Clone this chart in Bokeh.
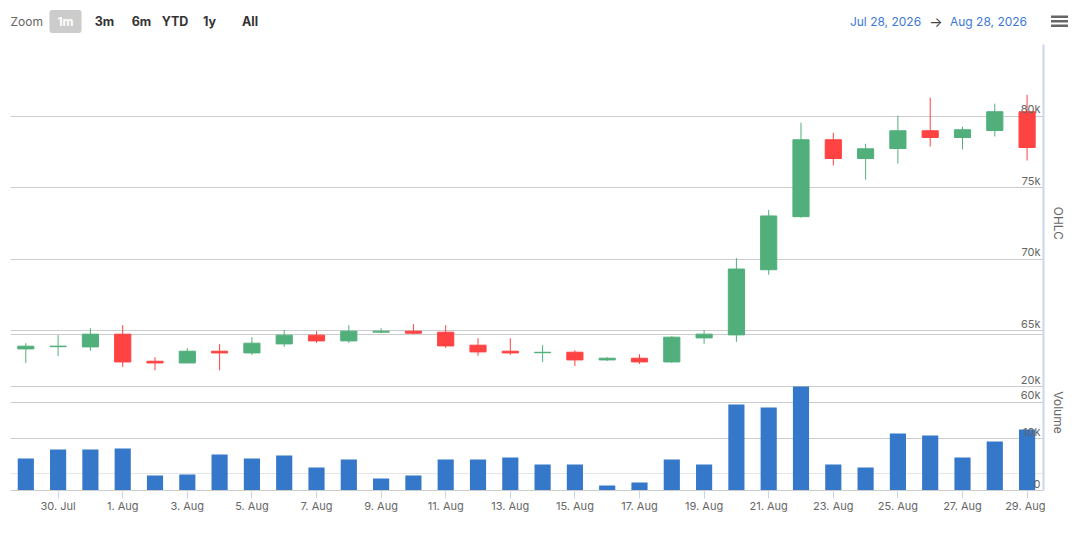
import math
import pandas as pd
from bokeh.plotting import figure
from bokeh.layouts import column, row
from bokeh.models import (Range1d, LinearAxis, FixedTicker, Grid, Label, LabelSet,
                          ColumnDataSource)
from bokeh.core.properties import value
from bokeh.embed import file_html
from bokeh.resources import INLINE

# ---------------- data ----------------
dates = pd.date_range("2026-07-29", "2026-08-29", freq="D")
opens = [63726, 63880, 63866, 64755, 62864, 62745, 63564, 63445, 64076, 64685, 64286,
         64895, 64965, 64895, 63985, 63565, 63460, 63495, 62956, 63075, 62816, 64496,
         64706, 69258, 72969, 78341, 77031, 77731, 78971, 78502, 78992, 80301]
highs = [64125, 64685, 65175, 65385, 63145, 63775, 64055, 64545, 65035, 64965, 65385,
         65175, 65455, 65385, 64475, 64475, 63985, 63635, 63145, 63355, 64615, 65035,
         70077, 73438, 79532, 78831, 78061, 80021, 81283, 79251, 80862, 81493]
lows = [62745, 63235, 63585, 62465, 62234, 62740, 62234, 63306, 63866, 64146, 64146,
        64825, 64755, 63796, 63236, 63306, 62816, 62536, 62885, 62675, 62745, 64076,
        64216, 68908, 72900, 76541, 75560, 76681, 77871, 77661, 78572, 76891]
closes = [63915, 63920, 64755, 62815, 62745, 63564, 63445, 64125, 64685, 64286, 64965,
          64965, 64825, 63936, 63516, 63445, 63490, 62956, 63075, 62816, 64545, 64755,
          69307, 73018, 78341, 77031, 77710, 78971, 78502, 79041, 80301, 77801]
volumes = [6154, 7885, 7885, 8077, 2885, 3077, 6923, 6154, 6731, 4423, 5962,
           2308, 2885, 5962, 5962, 6346, 5000, 5000, 962, 1538, 5962, 5000,
           16538, 15962, 20000, 5000, 4423, 10962, 10577, 6346, 9423, 11731]

ohlc_grid_ticks = [60000, 65000, 70000, 75000, 80000, 85000]
ohlc_label_ticks = [60000, 65000, 70000, 75000, 80000]
ohlc_labels = ["60k", "65k", "70k", "75k", "80k"]
vol_grid_ticks = [0, 10000, 20000, 30000]
vol_label_ticks = [0, 10000, 20000]
vol_labels = ["0", "10k", "20k"]
zoom_buttons = ["1m", "3m", "6m", "YTD", "1y", "All"]
range_from = "Jul 28, 2026"
range_to = "Aug 28, 2026"
axis_titles = ["OHLC", "Volume"]

# ---------------- styles ----------------
UP = "#51AF7B"
DOWN = "#FF4242"
VOL = "#3577C8"
GRID = "#cccccc"
AXIS = "#ccd6eb"
FONT = "Inter"
TOP_H = 42          # height of the range-selector strip
MAIN_W, MAIN_H = 1045, 484
SIDE_W = 27


def bare(fig):
    fig.xgrid.visible = False
    fig.ygrid.visible = False
    return fig


idx = list(range(len(dates)))
colors = [UP if c >= o else DOWN for o, c in zip(opens, closes)]
src = ColumnDataSource(dict(
    x=idx, open=opens, close=closes, high=highs, low=lows,
    top=[max(o, c) for o, c in zip(opens, closes)],
    bottom=[min(o, c) for o, c in zip(opens, closes)],
    color=colors, vol=volumes,
))

# ---------------- main chart ----------------
p = figure(width=MAIN_W, height=MAIN_H, output_backend="svg", toolbar_location=None,
           x_range=Range1d(-0.474, 31.508), y_range=Range1d(53830, 85000),
           y_axis_location=None,
           min_border_left=10, min_border_right=2, min_border_top=2, min_border_bottom=36,
           outline_line_color=None, background_fill_color="white", border_fill_color="white",
           margin=0)
p.extra_y_ranges = {"vol": Range1d(0, 85770)}
p.xgrid.visible = False

p.add_layout(Grid(dimension=1, ticker=FixedTicker(ticks=ohlc_grid_ticks),
                  grid_line_color=GRID, grid_line_width=1))
p.add_layout(Grid(dimension=1, ticker=FixedTicker(ticks=vol_grid_ticks), y_range_name="vol",
                  grid_line_color=GRID, grid_line_width=1))

xt = list(range(1, len(dates), 2))
xa = p.xaxis[0]
xa.ticker = FixedTicker(ticks=xt)
xa.major_label_overrides = {i: f"{dates[i].day}. {dates[i].strftime('%b')}" for i in xt}
xa.axis_line_color = GRID
xa.major_tick_line_color = AXIS
xa.major_tick_out = 8
xa.major_tick_in = 0
xa.minor_tick_line_color = None
xa.major_label_standoff = 0
xa.major_label_text_font = FONT
xa.major_label_text_font_size = "11px"
xa.major_label_text_color = "#666666"

ra = LinearAxis(ticker=FixedTicker(ticks=[]), axis_line_color=AXIS, axis_line_width=2,
                major_tick_line_color=None, minor_tick_line_color=None,
                major_tick_out=0, major_tick_in=0, major_label_standoff=0,
                major_label_text_font_size="0px")
p.add_layout(ra, "right")

p.vbar(x="x", width=0.5, top="vol", bottom=0, source=src, y_range_name="vol",
       fill_color=VOL, line_color=None)
p.segment(x0="x", y0="low", x1="x", y1="high", source=src, line_color="color", line_width=1)
p.vbar(x="x", width=0.5, top="top", bottom="bottom", source=src,
       fill_color="color", line_color="color", line_width=1)

LBL_X = 1030   # screen px from frame left, right edge of the y labels
p.add_layout(LabelSet(x=LBL_X, x_units="screen", y="y", text="t",
                      source=ColumnDataSource(dict(y=ohlc_label_ticks, t=ohlc_labels)),
                      text_align="right", text_baseline="alphabetic", y_offset=3,
                      text_font=value(FONT), text_font_size="11px", text_color="#666666"))
p.add_layout(LabelSet(x=LBL_X, x_units="screen", y="y", text="t", y_range_name="vol",
                      source=ColumnDataSource(dict(y=vol_label_ticks, t=vol_labels)),
                      text_align="right", text_baseline="alphabetic", y_offset=3,
                      text_font=value(FONT), text_font_size="11px", text_color="#666666"))

# ---------------- range selector strip (top) ----------------
top = bare(figure(width=MAIN_W + SIDE_W, height=TOP_H, output_backend="svg",
                  toolbar_location=None, x_range=Range1d(0, MAIN_W + SIDE_W),
                  y_range=Range1d(TOP_H, 0), x_axis_location=None, y_axis_location=None,
                  min_border=0, outline_line_color=None, margin=0))
top.add_layout(Label(x=10, y=21, text="Zoom", text_align="left", text_baseline="middle",
                     text_font=FONT, text_font_size="12px", text_color="#666666"))
btn_x = [65, 104, 141, 174.5, 209, 249.5]
for i, (b, bx) in enumerate(zip(zoom_buttons, btn_x)):
    if i == 0:
        top.add_layout(Label(x=bx, y=21, text=b, text_align="center", text_baseline="middle",
                             text_font=FONT, text_font_size="12px", text_font_style="bold",
                             text_color="white", background_fill_color="#cccccc",
                             border_radius=3, padding=dict(left=8, right=8, top=4, bottom=4)))
    else:
        top.add_layout(Label(x=bx, y=21, text=b, text_align="center", text_baseline="middle",
                             text_font=FONT, text_font_size="12.5px", text_font_style="bold",
                             text_color="#333333"))
for t, tx, col, fs in [(range_from, 885, "#3c78d8", "12px"), ("\u2192", 935.5, "#444444", "14px"),
                       (range_to, 988, "#3c78d8", "12px")]:
    top.add_layout(Label(x=tx, y=21, text=t, text_align="center", text_baseline="middle",
                         text_font=FONT, text_font_size=fs, text_color=col))
top.quad(left=[1050.5] * 3, right=[1067.5] * 3, top=[14.9, 19.4, 23.9], bottom=[17.5, 22.0, 26.5],
         fill_color="#666666", line_color=None)

# ---------------- axis titles strip (right) ----------------
side = bare(figure(width=SIDE_W, height=MAIN_H, output_backend="svg", toolbar_location=None,
                   x_range=Range1d(0, SIDE_W), y_range=p.y_range,
                   x_axis_location=None, y_axis_location=None,
                   min_border_left=0, min_border_right=0, min_border_top=2, min_border_bottom=36,
                   outline_line_color=None, margin=0))
side.extra_y_ranges = {"vol": p.extra_y_ranges["vol"]}
side.add_layout(Label(x=13, y=72500, text=axis_titles[0], angle=-math.pi / 2,
                      text_align="center", text_baseline="middle", text_font=FONT,
                      text_font_size="12px", text_color="#666666"))
side.add_layout(Label(x=13, y=15000, y_range_name="vol", text=axis_titles[1],
                      angle=-math.pi / 2, text_align="center", text_baseline="middle",
                      text_font=FONT, text_font_size="12px", text_color="#666666"))

layout = column(top, row(p, side, spacing=0, margin=0), spacing=0, margin=0)
open("out.html", "w").write(file_html(layout, INLINE))
